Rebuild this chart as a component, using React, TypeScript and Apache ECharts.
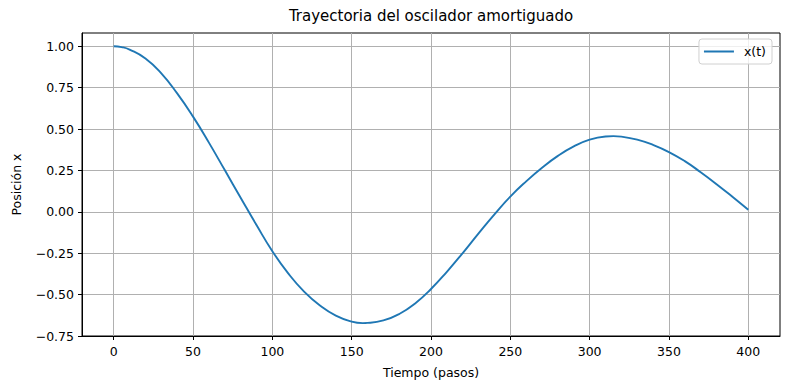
import React, { useEffect, useRef } from "react";
import * as echarts from "echarts";

const steps = [
  0, 5, 10, 20, 30, 40, 50, 60, 70, 80, 90, 100, 110, 120, 130, 140, 150, 157, 160, 170, 180, 190,
  200, 210, 220, 230, 240, 250, 260, 270, 280, 290, 300, 310, 315, 320, 330, 340, 350, 360, 370,
  380, 390, 400,
];
const position = [
  1.0, 0.995, 0.98, 0.926, 0.836, 0.715, 0.575, 0.418, 0.252, 0.085, -0.08, -0.238, -0.372,
  -0.482, -0.566, -0.627, -0.663, -0.672, -0.671, -0.656, -0.617, -0.553, -0.466, -0.362, -0.249,
  -0.13, -0.015, 0.092, 0.184, 0.266, 0.338, 0.395, 0.436, 0.455, 0.457, 0.454, 0.436, 0.404,
  0.361, 0.306, 0.239, 0.167, 0.091, 0.012,
];
const xTicks = [0, 50, 100, 150, 200, 250, 300, 350, 400];
const yTicks = [-0.75, -0.5, -0.25, 0, 0.25, 0.5, 0.75, 1.0];

const FONT = "DejaVu Sans";

export default function App() {
  const ref = useRef<HTMLDivElement>(null);
  useEffect(() => {
    if (!ref.current) return;
    const chart = echarts.init(ref.current, undefined, { renderer: "svg" });
    const fmtY = (v: number) => {
      const s = Math.abs(v).toFixed(2);
      return v < -1e-9 ? "\u2212" + s : s;
    };
    chart.setOption({
      animation: false,
      backgroundColor: "#ffffff",
      textStyle: { fontFamily: FONT },
      title: {
        text: "Trayectoria del oscilador amortiguado",
        left: 431,
        textAlign: "center",
        top: 8,
        padding: 0,
        textStyle: { fontFamily: FONT, fontSize: 15, fontWeight: "normal", color: "#000" },
      },
      legend: {
        data: ["x(t)"],
        right: 18,
        top: 39,
        orient: "vertical",
        icon: "rect",
        padding: [5, 6, 5, 5],
        itemWidth: 30,
        itemHeight: 2,
        borderColor: "#d0d0d0",
        borderWidth: 1,
        borderRadius: 3,
        backgroundColor: "rgba(255,255,255,0.8)",
        textStyle: {
          fontFamily: FONT,
          fontSize: 12.5,
          color: "#000",
          lineHeight: 15,
          padding: [0, 0, 0, 5],
        },
      },
      grid: {
        left: 82,
        right: 10,
        top: 33,
        bottom: 54,
        show: true,
        borderColor: "#000",
        borderWidth: 1,
        backgroundColor: "transparent",
      },
      xAxis: {
        type: "value",
        min: -20,
        max: 420,
        name: "Tiempo (pasos)",
        nameLocation: "middle",
        nameGap: 30,
        nameTextStyle: { fontFamily: FONT, fontSize: 12.5, color: "#000" },
        axisLine: { show: true, onZero: false, lineStyle: { color: "#000", width: 1 } },
        axisTick: { show: true, length: 4, customValues: xTicks, lineStyle: { color: "#000", width: 1 } },
        axisLabel: {
          customValues: xTicks,
          margin: 9,
          fontFamily: FONT,
          fontSize: 12.5,
          color: "#000",
          formatter: (v: number) => String(v),
        },
        splitLine: { show: true, lineStyle: { color: "#b0b0b0", width: 1 } },
      },
      yAxis: {
        type: "value",
        min: -0.75,
        max: 1.08,
        name: "Posición x",
        nameLocation: "middle",
        nameGap: 59,
        nameRotate: 90,
        nameTextStyle: { fontFamily: FONT, fontSize: 12.5, color: "#000" },
        axisLine: { show: true, onZero: false, lineStyle: { color: "#000", width: 1 } },
        axisTick: { show: true, length: 4, customValues: yTicks, lineStyle: { color: "#000", width: 1 } },
        axisLabel: {
          customValues: yTicks,
          margin: 8,
          fontFamily: FONT,
          fontSize: 12.5,
          color: "#000",
          formatter: fmtY,
        },
        splitLine: { show: true, lineStyle: { color: "#b0b0b0", width: 1 } },
      },
      series: [
        {
          name: "x(t)",
          type: "line",
          data: steps.map((t, i) => [t, position[i]]),
          smooth: 0.5,
          symbol: "none",
          lineStyle: { color: "#1f77b4", width: 1.9 },
          itemStyle: { color: "#1f77b4" },
        },
      ],
    });
    return () => chart.dispose();
  }, []);
  return (
    <div
      ref={ref}
      style={{ position: "fixed", left: 0, top: 0, width: 790, height: 390, background: "#fff" }}
    />
  );
}
